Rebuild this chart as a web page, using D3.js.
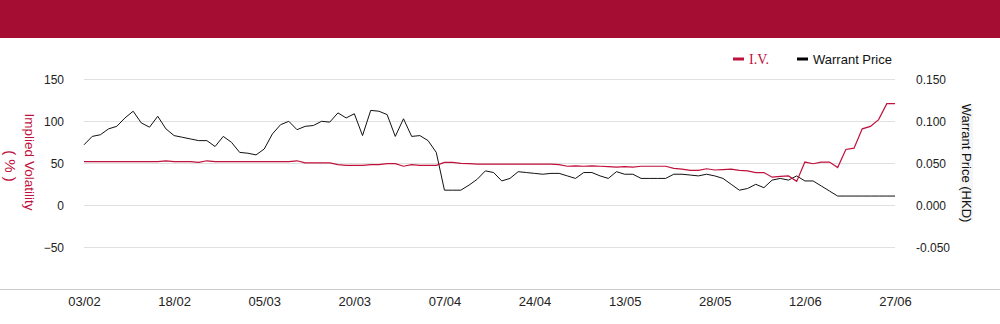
<!DOCTYPE html>
<html>
<head>
<meta charset="utf-8">
<script src="https://cdnjs.cloudflare.com/ajax/libs/d3/7.8.5/d3.min.js"></script>
<style>
  body { margin: 0; background: #fff; }
  svg { display: block; font-family: "Liberation Sans", Arial, sans-serif; }
</style>
</head>
<body>
<div id="chart"></div>
<script>
// trading days (dd/mm)
var dates = [
  "03/02","04/02","05/02","06/02","07/02","10/02","11/02","12/02","13/02","14/02",
  "17/02","18/02","19/02","20/02","21/02","24/02","25/02","26/02","27/02","28/02",
  "03/03","04/03","05/03","06/03","07/03","10/03","11/03","12/03","13/03","14/03",
  "17/03","18/03","19/03","20/03","21/03","24/03","25/03","26/03","27/03","28/03","31/03",
  "01/04","02/04","03/04","07/04","08/04","09/04","10/04","11/04","14/04","15/04",
  "16/04","17/04","22/04","23/04","24/04","25/04","28/04","29/04","30/04",
  "02/05","06/05","07/05","08/05","09/05","12/05","13/05","14/05","15/05","16/05",
  "19/05","20/05","21/05","22/05","23/05","26/05","27/05","28/05","29/05","30/05",
  "02/06","03/06","04/06","05/06","06/06","09/06","10/06","11/06","12/06","13/06",
  "16/06","17/06","18/06","19/06","20/06","23/06","24/06","25/06","26/06","27/06"
];
var tickDates = ["03/02","18/02","05/03","20/03","07/04","24/04","13/05","28/05","12/06","27/06"];

// implied volatility (%)
var iv = [
  52,52,52,52,52,52,52,52,52,52,
  53,52,52,52,51,53,52,52,52,52,
  52,52,52,52,52,52,53,50.5,50.5,50.5,
  50.5,48.5,47.5,47.5,47.5,48.5,48.5,49.5,49.5,46.5,
  48.5,47.5,47.5,47.5,51,51,50,49.5,49,49,
  49,49,49,49,49,49,49,49,48.5,46.5,
  47,46.5,47,46.5,46,45.5,46,45.5,46.5,46.5,
  46.5,46.5,44,43,41.5,41.5,43.5,42,42.5,43,
  41.5,41,39,39,33.5,34.5,35,28.5,51.5,49.5,
  51.5,51.5,45,66.5,68,91,94,102,121,121
];

// warrant price (HKD)
var price = [
  0.072,0.082,0.084,0.091,0.094,0.104,0.112,0.098,0.093,0.106,
  0.091,0.083,0.081,0.079,0.077,0.077,0.070,0.082,0.075,0.063,
  0.062,0.060,0.067,0.085,0.096,0.100,0.090,0.094,0.095,0.100,
  0.099,0.110,0.104,0.109,0.083,0.113,0.112,0.108,0.082,0.103,
  0.082,0.083,0.077,0.063,0.018,0.018,0.018,0.024,0.031,0.041,
  0.039,0.029,0.032,0.040,0.039,0.038,0.037,0.038,0.038,0.035,
  0.032,0.039,0.039,0.035,0.032,0.040,0.037,0.037,0.032,0.032,
  0.032,0.032,0.037,0.037,0.036,0.035,0.037,0.035,0.032,0.025,
  0.018,0.020,0.025,0.021,0.030,0.032,0.030,0.035,0.029,0.029,
  0.023,0.017,0.011,0.011,0.011,0.011,0.011,0.011,0.011,0.011
];

var ivTicks = [150, 100, 50, 0, -50];
var priceTicks = [0.15, 0.1, 0.05, 0, -0.05];

var W = 1000, H = 324;
var red = "#c0103c", barRed = "#a50d33";

var svg = d3.select("#chart").append("svg").attr("width", W).attr("height", H);

// header band
svg.append("rect").attr("x", 0).attr("y", 0).attr("width", W).attr("height", 38).attr("fill", barRed);

var x = d3.scalePoint().domain(dates).range([84, 895]);
var yL = d3.scaleLinear().domain([-100, 150]).range([289.3, 79.3]);
var yR = d3.scaleLinear().domain([-0.1, 0.15]).range([289.3, 79.3]);

// gridlines
svg.append("g").selectAll("line").data(ivTicks).enter().append("line")
  .attr("x1", 84).attr("x2", 895)
  .attr("y1", function (d) { return Math.round(yL(d)) + 0.5; })
  .attr("y2", function (d) { return Math.round(yL(d)) + 0.5; })
  .attr("stroke", "#e0e0e0").attr("stroke-width", 1);

// bottom line
svg.append("line").attr("x1", 0).attr("x2", W).attr("y1", 289.5).attr("y2", 289.5)
  .attr("stroke", "#cccccc").attr("stroke-width", 1);

// left axis labels
var yAxisL = d3.axisLeft(yL).tickValues(ivTicks).tickSize(0).tickPadding(0);
var gL = svg.append("g").attr("transform", "translate(64,0)").call(yAxisL);
gL.select(".domain").remove();
gL.selectAll("text").attr("font-size", 12).attr("font-family", "Liberation Sans, Arial, sans-serif").attr("fill", "#222");

// right axis labels
var yAxisR = d3.axisRight(yR).tickValues(priceTicks).tickSize(0).tickPadding(0)
  .tickFormat(d3.format(".3f"));
var gR = svg.append("g").attr("transform", "translate(916,0)").call(yAxisR);
gR.select(".domain").remove();
gR.selectAll("text").attr("font-size", 12).attr("font-family", "Liberation Sans, Arial, sans-serif").attr("fill", "#222")
  .text(function (d) { return d3.format(".3f")(d).replace("−", "-"); });

// x axis labels
var xAxis = d3.axisBottom(x).tickValues(tickDates).tickSize(0).tickPadding(0);
var gX = svg.append("g").attr("transform", "translate(0,297)").call(xAxis);
gX.select(".domain").remove();
gX.selectAll("text").attr("font-size", 13).attr("font-family", "Liberation Sans, Arial, sans-serif").attr("fill", "#222");

// lines
var ivLine = d3.line().x(function (d, i) { return x(dates[i]); }).y(function (d) { return yL(d); });
var prLine = d3.line().x(function (d, i) { return x(dates[i]); }).y(function (d) { return yR(d); });

svg.append("path").datum(price).attr("d", prLine)
  .attr("fill", "none").attr("stroke", "#111").attr("stroke-width", 1);
svg.append("path").datum(iv).attr("d", ivLine)
  .attr("fill", "none").attr("stroke", red).attr("stroke-width", 1.2);

// left title
svg.append("text").attr("transform", "translate(25,162) rotate(90)")
  .attr("text-anchor", "middle").attr("font-size", 13.5).attr("fill", red)
  .text("Implied Volatility");
svg.append("text").attr("transform", "translate(5,166) rotate(90)")
  .attr("text-anchor", "middle").attr("font-size", 15).attr("fill", red)
  .text("( % )");

// right title
svg.append("rect").attr("x", 960).attr("y", 105).attr("width", 13).attr("height", 115).attr("fill", "#f5f5f5");
svg.append("text").attr("transform", "translate(962,163) rotate(90)")
  .attr("text-anchor", "middle").attr("font-size", 13).attr("fill", "#111")
  .text("Warrant Price (HKD)");

// legend
var legend = [
  { name: "I.V.", color: red, x: 733, font: "Liberation Serif, Times New Roman, serif", tc: red },
  { name: "Warrant Price", color: "#000", x: 797, font: "Liberation Sans, Arial, sans-serif", tc: "#111" }
];
var lg = svg.append("g").selectAll("g").data(legend).enter().append("g");
lg.append("rect").attr("x", function (d) { return d.x; }).attr("y", 57.5)
  .attr("width", 11).attr("height", 3).attr("fill", function (d) { return d.color; });
lg.append("text").attr("x", function (d) { return d.x + 16; }).attr("y", 63.5)
  .attr("font-size", function (d) { return d.name === "I.V." ? 14 : 13; })
  .attr("font-family", function (d) { return d.font; })
  .attr("fill", function (d) { return d.tc; }).text(function (d) { return d.name; });
</script>
</body>
</html>
